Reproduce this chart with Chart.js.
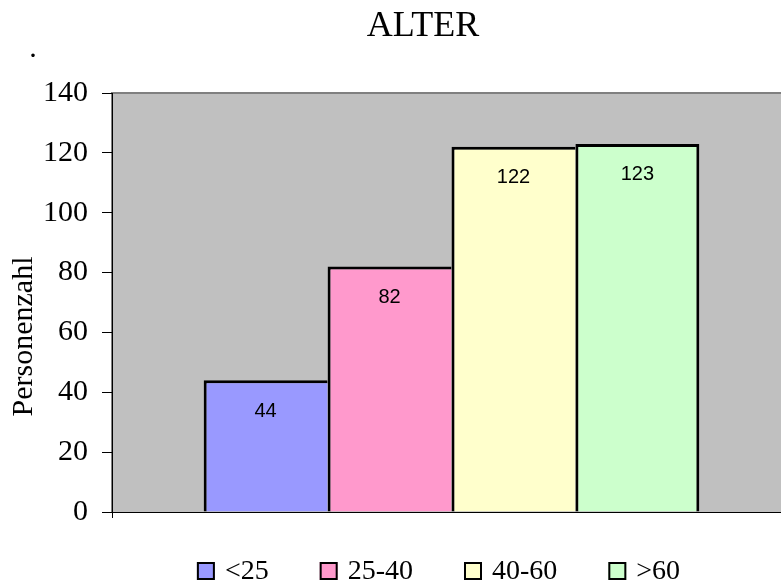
<!DOCTYPE html>
<html>
<head>
<meta charset="utf-8">
<title>ALTER</title>
<script src="https://cdn.jsdelivr.net/npm/chart.js@4/dist/chart.umd.min.js"></script>
<style>
    body { margin: 0; background: #fff; }
    /* the plot area runs past the right edge, so the canvas is a bit wider than the page */
    #wrap { width: 781px; height: 583px; overflow: hidden; }
</style>
</head>
<body>
<div id="wrap"><canvas id="ageChart" width="800" height="583"></canvas></div>
<script>
// age groups and number of persons per group
const groups = ["<25", "25-40", "40-60", ">60"];
const persons = [44, 82, 122, 123];
const barColors = ["#9999FF", "#FF99CC", "#FFFFCC", "#CCFFCC"];
const yMin = 0, yMax = 140, yStep = 20;
const chartTitle = "ALTER";
const yTitle = "Personenzahl";

const serif = "'Liberation Serif', 'Times New Roman', serif";
const sans = "'Liberation Sans', Arial, sans-serif";

// grey plot area like the old spreadsheet charts
const plotBackground = {
    id: "plotBackground",
    beforeDraw(chart) {
        const { ctx, chartArea: a } = chart;
        ctx.save();
        ctx.fillStyle = "#C0C0C0";
        ctx.fillRect(a.left, a.top, a.right - a.left, a.bottom - a.top);
        ctx.strokeStyle = "#808080";
        ctx.lineWidth = 2;
        ctx.beginPath();
        ctx.moveTo(a.left, a.bottom);
        ctx.lineTo(a.left, a.top);
        ctx.lineTo(a.right, a.top);
        ctx.stroke();
        ctx.restore();
    }
};

// value labels, titles and the legend row
const extras = {
    id: "extras",
    afterDatasetsDraw(chart) {
        const { ctx, chartArea: a } = chart;
        const sets = chart.data.datasets;

        ctx.save();
        ctx.fillStyle = "#000";
        ctx.textBaseline = "middle";

        // numbers inside the top of the bars
        ctx.font = "20px " + sans;
        ctx.textAlign = "center";
        sets.forEach((ds, i) => {
            const bar = chart.getDatasetMeta(i).data[0];
            ctx.fillText(ds.data[0], bar.x, bar.y + 31);
        });

        // chart title
        ctx.font = "36px " + serif;
        ctx.fillText(chartTitle, 423, 27);

        // stray full stop under the title
        ctx.font = "30px " + serif;
        ctx.textBaseline = "alphabetic";
        ctx.fillText(".", 33, 57);

        // legend: box + label, centred under the plot
        ctx.font = "28px " + serif;
        ctx.textBaseline = "middle";
        ctx.textAlign = "left";
        const box = 18, textGap = 10, itemGap = 51;
        const widths = sets.map(ds => box + textGap + ctx.measureText(ds.label).width);
        const total = widths.reduce((s, w) => s + w, 0) + itemGap * (sets.length - 1);
        let x = 438.5 - total / 2;
        const boxTop = a.bottom + 50;
        sets.forEach((ds, i) => {
            ctx.fillStyle = ds.backgroundColor;
            ctx.fillRect(x, boxTop, box, box);
            ctx.strokeStyle = "#000";
            ctx.lineWidth = 2;
            ctx.strokeRect(x + 1, boxTop + 1, box - 2, box - 2);
            ctx.fillStyle = "#000";
            ctx.fillText(ds.label, x + box + textGap, boxTop + box / 2 + 1);
            x += widths[i] + itemGap;
        });

        // y axis title
        ctx.font = "30px " + serif;
        ctx.textAlign = "center";
        ctx.translate(24, (a.top + a.bottom) / 2 + 34);
        ctx.rotate(-Math.PI / 2);
        ctx.fillText(yTitle, 0, 0);
        ctx.restore();
    }
};

// neighbouring bars share one outline, so only the last bar gets a right edge
const datasets = groups.map((g, i) => ({
    label: g,
    data: [persons[i]],
    backgroundColor: barColors[i],
    borderColor: "#000",
    borderWidth: { top: 3, left: 3, right: i === groups.length - 1 ? 3 : 0, bottom: 0 },
    borderSkipped: "bottom"
}));

new Chart(document.getElementById("ageChart"), {
    type: "bar",
    data: { labels: [""], datasets: datasets },
    plugins: [plotBackground, extras],
    options: {
        responsive: false,
        animation: false,
        layout: { padding: { left: 0, right: 9, top: 93, bottom: 71 } },
        datasets: { bar: { categoryPercentage: 0.73, barPercentage: 1 } },
        scales: {
            x: {
                grid: { drawOnChartArea: false, tickLength: 6, color: "#000" },
                border: { color: "#000", width: 1 },
                ticks: { display: false },
                afterFit(scale) { scale.height = 0; }
            },
            y: {
                min: yMin,
                max: yMax,
                ticks: { stepSize: yStep, color: "#000", padding: 14, font: { family: serif, size: 30 } },
                grid: { drawOnChartArea: false, tickLength: 10, color: "#000" },
                border: { color: "#000", width: 1 },
                afterFit(scale) { scale.width = 112; }
            }
        },
        plugins: {
            title: { display: false },
            legend: { display: false },
            tooltip: { enabled: false }
        }
    }
});
</script>
</body>
</html>
